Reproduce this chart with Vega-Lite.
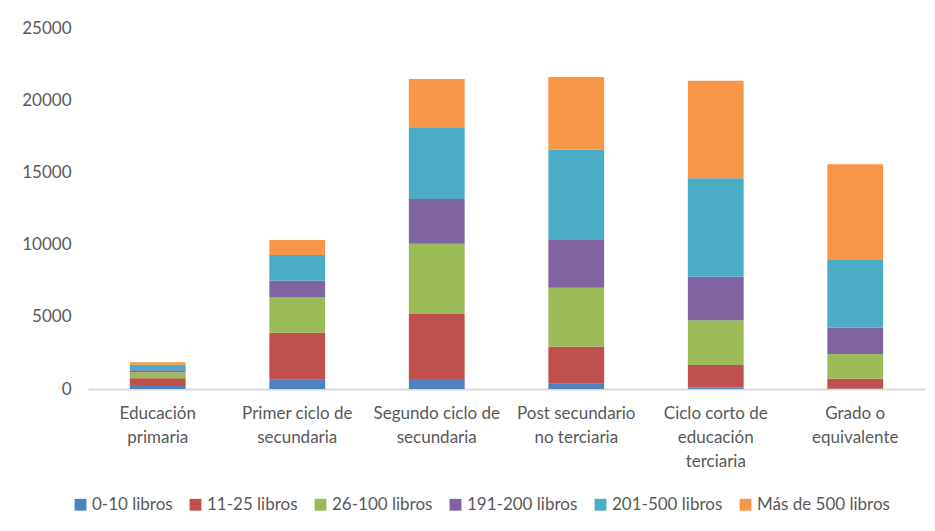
{
  "$schema": "https://vega.github.io/schema/vega-lite/v6.json",
  "width": 837,
  "height": 361,
  "autosize": "none",
  "padding": {"left": 88, "top": 28, "right": 10, "bottom": 142},
  "background": "white",
  "config": {
    "view": {"stroke": null},
    "font": "Lato",
    "axis": {"labelFont": "Lato", "labelColor": "#595959", "labelFontSize": 17, "grid": false, "ticks": false, "title": null},
    "legend": {"labelFont": "Lato", "labelColor": "#595959", "labelFontSize": 17}
  },
  "data": {
    "values": [
      {"nivel": "Educación primaria", "libros": "0-10 libros", "orden": 1, "n": 210},
      {"nivel": "Educación primaria", "libros": "11-25 libros", "orden": 2, "n": 530},
      {"nivel": "Educación primaria", "libros": "26-100 libros", "orden": 3, "n": 420},
      {"nivel": "Educación primaria", "libros": "191-200 libros", "orden": 4, "n": 130},
      {"nivel": "Educación primaria", "libros": "201-500 libros", "orden": 5, "n": 390},
      {"nivel": "Educación primaria", "libros": "Más de 500 libros", "orden": 6, "n": 170},
      {"nivel": "Primer ciclo de secundaria", "libros": "0-10 libros", "orden": 1, "n": 640},
      {"nivel": "Primer ciclo de secundaria", "libros": "11-25 libros", "orden": 2, "n": 3260},
      {"nivel": "Primer ciclo de secundaria", "libros": "26-100 libros", "orden": 3, "n": 2470},
      {"nivel": "Primer ciclo de secundaria", "libros": "191-200 libros", "orden": 4, "n": 1130},
      {"nivel": "Primer ciclo de secundaria", "libros": "201-500 libros", "orden": 5, "n": 1780},
      {"nivel": "Primer ciclo de secundaria", "libros": "Más de 500 libros", "orden": 6, "n": 1040},
      {"nivel": "Segundo ciclo de secundaria", "libros": "0-10 libros", "orden": 1, "n": 690},
      {"nivel": "Segundo ciclo de secundaria", "libros": "11-25 libros", "orden": 2, "n": 4500},
      {"nivel": "Segundo ciclo de secundaria", "libros": "26-100 libros", "orden": 3, "n": 4870},
      {"nivel": "Segundo ciclo de secundaria", "libros": "191-200 libros", "orden": 4, "n": 3100},
      {"nivel": "Segundo ciclo de secundaria", "libros": "201-500 libros", "orden": 5, "n": 4960},
      {"nivel": "Segundo ciclo de secundaria", "libros": "Más de 500 libros", "orden": 6, "n": 3350},
      {"nivel": "Post secundario no terciaria", "libros": "0-10 libros", "orden": 1, "n": 370},
      {"nivel": "Post secundario no terciaria", "libros": "11-25 libros", "orden": 2, "n": 2560},
      {"nivel": "Post secundario no terciaria", "libros": "26-100 libros", "orden": 3, "n": 4090},
      {"nivel": "Post secundario no terciaria", "libros": "191-200 libros", "orden": 4, "n": 3300},
      {"nivel": "Post secundario no terciaria", "libros": "201-500 libros", "orden": 5, "n": 6250},
      {"nivel": "Post secundario no terciaria", "libros": "Más de 500 libros", "orden": 6, "n": 5030},
      {"nivel": "Ciclo corto de educación terciaria", "libros": "0-10 libros", "orden": 1, "n": 100},
      {"nivel": "Ciclo corto de educación terciaria", "libros": "11-25 libros", "orden": 2, "n": 1560},
      {"nivel": "Ciclo corto de educación terciaria", "libros": "26-100 libros", "orden": 3, "n": 3100},
      {"nivel": "Ciclo corto de educación terciaria", "libros": "191-200 libros", "orden": 4, "n": 3020},
      {"nivel": "Ciclo corto de educación terciaria", "libros": "201-500 libros", "orden": 5, "n": 6810},
      {"nivel": "Ciclo corto de educación terciaria", "libros": "Más de 500 libros", "orden": 6, "n": 6760},
      {"nivel": "Grado o equivalente", "libros": "0-10 libros", "orden": 1, "n": 30},
      {"nivel": "Grado o equivalente", "libros": "11-25 libros", "orden": 2, "n": 680},
      {"nivel": "Grado o equivalente", "libros": "26-100 libros", "orden": 3, "n": 1710},
      {"nivel": "Grado o equivalente", "libros": "191-200 libros", "orden": 4, "n": 1830},
      {"nivel": "Grado o equivalente", "libros": "201-500 libros", "orden": 5, "n": 4730},
      {"nivel": "Grado o equivalente", "libros": "Más de 500 libros", "orden": 6, "n": 6580}
    ]
  },
  "mark": {"type": "bar"},
  "encoding": {
    "x": {
      "field": "nivel",
      "type": "nominal",
      "sort": null,
      "scale": {"paddingInner": 0.6, "paddingOuter": 0.3},
      "axis": {
        "labelAngle": 0,
        "domainColor": "#d9d9d9",
        "domainWidth": 2,
        "labelPadding": 16,
        "labelBaseline": "top",
        "labelLineHeight": 24,
        "labelLimit": 200,
        "labelExpr": "datum.label == 'Educación primaria' ? ['Educación','primaria'] : datum.label == 'Primer ciclo de secundaria' ? ['Primer ciclo de','secundaria'] : datum.label == 'Segundo ciclo de secundaria' ? ['Segundo ciclo de','secundaria'] : datum.label == 'Post secundario no terciaria' ? ['Post secundario','no terciaria'] : datum.label == 'Ciclo corto de educación terciaria' ? ['Ciclo corto de','educación','terciaria'] : ['Grado o','equivalente']"
      }
    },
    "y": {
      "field": "n",
      "type": "quantitative",
      "aggregate": "sum",
      "stack": "zero",
      "scale": {"domain": [0, 25000], "nice": false},
      "axis": {"values": [0, 5000, 10000, 15000, 20000, 25000], "format": "d", "domain": false, "labelPadding": 17}
    },
    "order": {"field": "orden", "type": "quantitative", "aggregate": "min", "sort": "ascending"},
    "color": {
      "field": "libros",
      "type": "nominal",
      "scale": {
        "domain": ["0-10 libros", "11-25 libros", "26-100 libros", "191-200 libros", "201-500 libros", "Más de 500 libros"],
        "range": ["#4F81BD", "#C0504D", "#9BBB59", "#8064A2", "#4BACC6", "#F79646"]
      },
      "legend": {
        "title": null,
        "orient": "none",
        "direction": "horizontal",
        "legendX": -16,
        "legendY": 468,
        "symbolType": "square",
        "symbolSize": 140,
        "symbolStrokeWidth": 0,
        "labelOffset": 3,
        "columnPadding": 14
      }
    }
  }
}
